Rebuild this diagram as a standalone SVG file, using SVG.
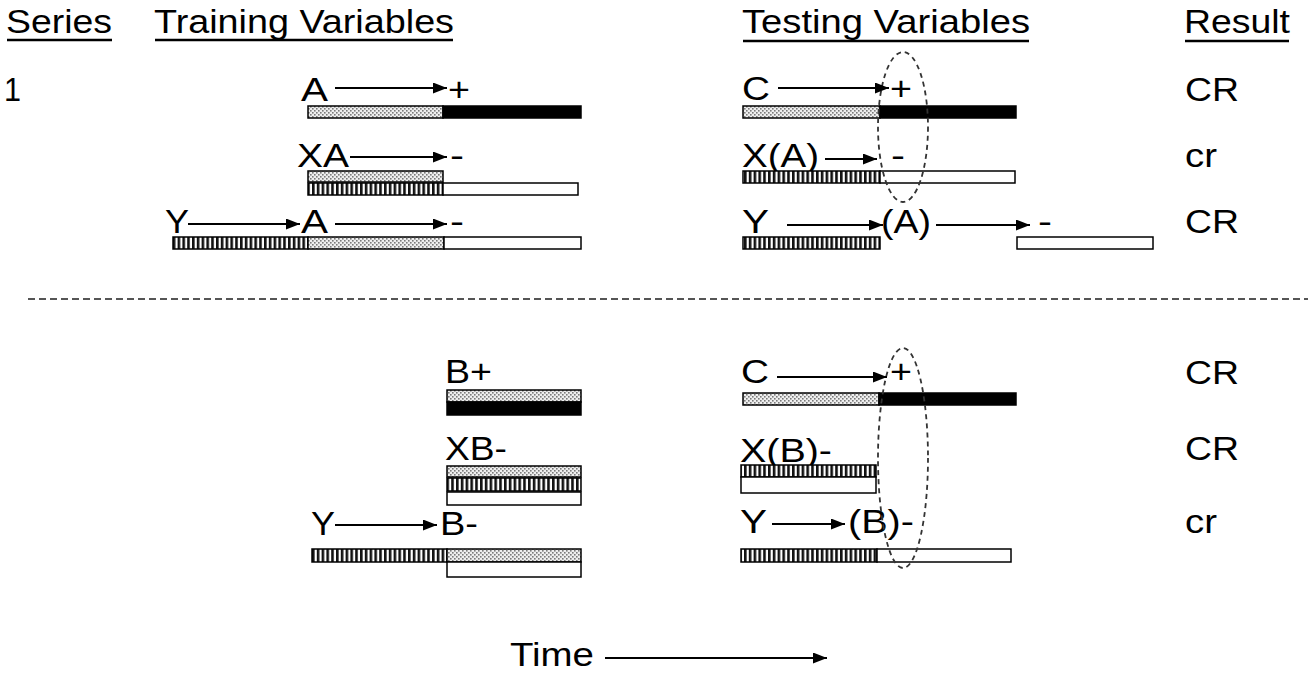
<svg xmlns="http://www.w3.org/2000/svg" width="1308" height="675" viewBox="0 0 1308 675">
  <defs>
    <!-- stippled fill for the conditioned stimulus period -->
    <pattern id="stipple" patternUnits="userSpaceOnUse" width="4" height="4">
      <rect width="4" height="4" fill="#eeeeee"/>
      <rect x="0" y="0" width="1.6" height="1.6" fill="#7a7a7a"/>
      <rect x="2" y="2" width="1.6" height="1.6" fill="#7a7a7a"/>
    </pattern>
    <!-- vertical hatching for X / Y cues -->
    <pattern id="hatch" patternUnits="userSpaceOnUse" width="4.8" height="20">
      <rect width="4.8" height="20" fill="#ffffff"/>
      <rect x="0" y="0" width="2.6" height="20" fill="#111111"/>
    </pattern>
    <marker id="head" markerUnits="userSpaceOnUse" markerWidth="15" markerHeight="12" refX="14" refY="5.5" orient="auto">
      <path d="M0,0 L14,5.5 L0,11 Z" fill="#000"/>
    </marker>
  </defs>
  <style>
    text { font-family: "Liberation Sans", Arial, sans-serif; font-size: 34px; fill: #000; }
    .ul { stroke: #000; stroke-width: 2.5; }
    .bar { stroke: #000; stroke-width: 1.5; }
    .dot { fill: url(#stipple); }
    .hat { fill: url(#hatch); }
    .blk { fill: #000; }
    .wht { fill: #fff; }
    .arr { stroke: #000; stroke-width: 2.2; fill: none; marker-end: url(#head); }
    .oval { fill: none; stroke: #333; stroke-width: 1.8; stroke-dasharray: 5 4; }
    .sep { stroke: #555; stroke-width: 2.2; stroke-dasharray: 7 4; }
  </style>
  <rect width="1308" height="675" fill="#fff"/>

  <!-- column headings -->
  <g id="headings">
    <text x="6" y="33" textLength="106" lengthAdjust="spacingAndGlyphs">Series</text>
    <text x="154" y="33" textLength="300" lengthAdjust="spacingAndGlyphs">Training Variables</text>
    <text x="742" y="33" textLength="288" lengthAdjust="spacingAndGlyphs">Testing Variables</text>
    <text x="1184" y="33" textLength="106" lengthAdjust="spacingAndGlyphs">Result</text>
    <line class="ul" x1="7" y1="40" x2="112" y2="40"/>
    <line class="ul" x1="155" y1="40" x2="453" y2="40"/>
    <line class="ul" x1="743" y1="41" x2="1029" y2="41"/>
    <line class="ul" x1="1185" y1="41" x2="1289" y2="41"/>
  </g>

  <text x="4" y="101" textLength="17" lengthAdjust="spacingAndGlyphs">1</text>

  <!-- series 1, training -->
  <g id="train-a">
    <text x="301" y="101" textLength="27" lengthAdjust="spacingAndGlyphs">A</text>
    <text x="448" y="101" textLength="22" lengthAdjust="spacingAndGlyphs">+</text>
    <rect class="bar dot" x="308" y="106" width="135" height="12"/>
    <rect class="bar blk" x="443" y="106" width="138" height="12"/>
  </g>
  <g id="train-xa">
    <text x="297" y="167" textLength="52" lengthAdjust="spacingAndGlyphs">XA</text>
    <text x="450" y="167" textLength="14" lengthAdjust="spacingAndGlyphs">-</text>
    <rect class="bar dot" x="308" y="171" width="135" height="11"/>
    <rect class="bar hat" x="308" y="183" width="135" height="12"/>
    <rect class="bar wht" x="443" y="183" width="135" height="12"/>
  </g>
  <g id="train-ya">
    <text x="165" y="233" textLength="24" lengthAdjust="spacingAndGlyphs">Y</text>
    <text x="301" y="233" textLength="27" lengthAdjust="spacingAndGlyphs">A</text>
    <text x="450" y="233" textLength="14" lengthAdjust="spacingAndGlyphs">-</text>
    <rect class="bar hat" x="173" y="237" width="135" height="12"/>
    <rect class="bar dot" x="308" y="237" width="136" height="12"/>
    <rect class="bar wht" x="444" y="237" width="137" height="12"/>
  </g>

  <!-- series 1, testing -->
  <g id="test-c1">
    <text x="742" y="100" textLength="28" lengthAdjust="spacingAndGlyphs">C</text>
    <text x="890" y="100" textLength="22" lengthAdjust="spacingAndGlyphs">+</text>
    <rect class="bar dot" x="743" y="106" width="137" height="12"/>
    <rect class="bar blk" x="880" y="106" width="136" height="12"/>
  </g>
  <g id="test-xa">
    <text x="742" y="167" textLength="77" lengthAdjust="spacingAndGlyphs">X(A)</text>
    <text x="891" y="167" textLength="14" lengthAdjust="spacingAndGlyphs">-</text>
    <rect class="bar hat" x="743" y="171" width="137" height="12"/>
    <rect class="bar wht" x="880" y="171" width="135" height="12"/>
  </g>
  <g id="test-ya">
    <text x="742" y="233" textLength="27" lengthAdjust="spacingAndGlyphs">Y</text>
    <text x="881" y="233" textLength="50" lengthAdjust="spacingAndGlyphs">(A)</text>
    <text x="1038" y="233" textLength="14" lengthAdjust="spacingAndGlyphs">-</text>
    <rect class="bar hat" x="743" y="237" width="137" height="12"/>
    <rect class="bar wht" x="1017" y="237" width="136" height="12"/>
  </g>
  <ellipse id="focus-1" class="oval" cx="903" cy="127" rx="25" ry="75"/>

  <!-- series 1, results -->
  <g id="results-1">
    <text x="1185" y="101" textLength="54" lengthAdjust="spacingAndGlyphs">CR</text>
    <text x="1185" y="167" textLength="32" lengthAdjust="spacingAndGlyphs">cr</text>
    <text x="1185" y="233" textLength="54" lengthAdjust="spacingAndGlyphs">CR</text>
  </g>

  <line class="sep" x1="28" y1="299" x2="1308" y2="299"/>

  <!-- series 2, training -->
  <g id="train-b">
    <text x="445" y="383" textLength="47" lengthAdjust="spacingAndGlyphs">B+</text>
    <rect class="bar dot" x="447" y="390" width="134" height="12"/>
    <rect class="bar blk" x="447" y="402" width="134" height="13"/>
  </g>
  <g id="train-xb">
    <text x="445" y="460" textLength="62" lengthAdjust="spacingAndGlyphs">XB-</text>
    <rect class="bar dot" x="447" y="466" width="134" height="11"/>
    <rect class="bar hat" x="447" y="478" width="134" height="13"/>
    <rect class="bar wht" x="447" y="492" width="134" height="13"/>
  </g>
  <g id="train-yb">
    <text x="311" y="535" textLength="24" lengthAdjust="spacingAndGlyphs">Y</text>
    <text x="440" y="535" textLength="38" lengthAdjust="spacingAndGlyphs">B-</text>
    <rect class="bar hat" x="312" y="549" width="135" height="13"/>
    <rect class="bar dot" x="447" y="549" width="134" height="13"/>
    <rect class="bar wht" x="447" y="562" width="134" height="15"/>
  </g>

  <!-- series 2, testing -->
  <g id="test-c2">
    <text x="741" y="383" textLength="28" lengthAdjust="spacingAndGlyphs">C</text>
    <text x="890" y="383" textLength="22" lengthAdjust="spacingAndGlyphs">+</text>
    <rect class="bar dot" x="743" y="393" width="136" height="12"/>
    <rect class="bar blk" x="879" y="393" width="137" height="12"/>
  </g>
  <g id="test-xb">
    <text x="740" y="462" textLength="92" lengthAdjust="spacingAndGlyphs">X(B)-</text>
    <rect class="bar hat" x="741" y="465" width="135" height="12"/>
    <rect class="bar wht" x="741" y="477" width="135" height="16"/>
  </g>
  <g id="test-yb">
    <text x="740" y="533" textLength="27" lengthAdjust="spacingAndGlyphs">Y</text>
    <text x="848" y="533" textLength="66" lengthAdjust="spacingAndGlyphs">(B)-</text>
    <rect class="bar hat" x="741" y="549" width="136" height="13"/>
    <rect class="bar wht" x="877" y="549" width="134" height="13"/>
  </g>
  <ellipse id="focus-2" class="oval" cx="903" cy="458" rx="25" ry="110"/>

  <!-- series 2, results -->
  <g id="results-2">
    <text x="1185" y="384" textLength="54" lengthAdjust="spacingAndGlyphs">CR</text>
    <text x="1185" y="460" textLength="54" lengthAdjust="spacingAndGlyphs">CR</text>
    <text x="1185" y="533" textLength="32" lengthAdjust="spacingAndGlyphs">cr</text>
  </g>

  <g id="time-axis">
    <text x="510" y="666" textLength="84" lengthAdjust="spacingAndGlyphs">Time</text>
  </g>

  <!-- arrows -->
  <g id="connectors">
    <line class="arr" x1="335" y1="88" x2="447" y2="88"/>
    <line class="arr" x1="350" y1="157" x2="447" y2="157"/>
    <line class="arr" x1="188" y1="224" x2="300" y2="224"/>
    <line class="arr" x1="335" y1="224" x2="447" y2="224"/>
    <line class="arr" x1="778" y1="88" x2="889" y2="88"/>
    <line class="arr" x1="825" y1="159" x2="877" y2="159"/>
    <line class="arr" x1="787" y1="225" x2="883" y2="225"/>
    <line class="arr" x1="936" y1="225" x2="1030" y2="225"/>
    <line class="arr" x1="335" y1="525" x2="437" y2="525"/>
    <line class="arr" x1="777" y1="377" x2="887" y2="377"/>
    <line class="arr" x1="772" y1="524" x2="845" y2="524"/>
    <line class="arr" x1="605" y1="658" x2="827" y2="658"/>
  </g>
</svg>
